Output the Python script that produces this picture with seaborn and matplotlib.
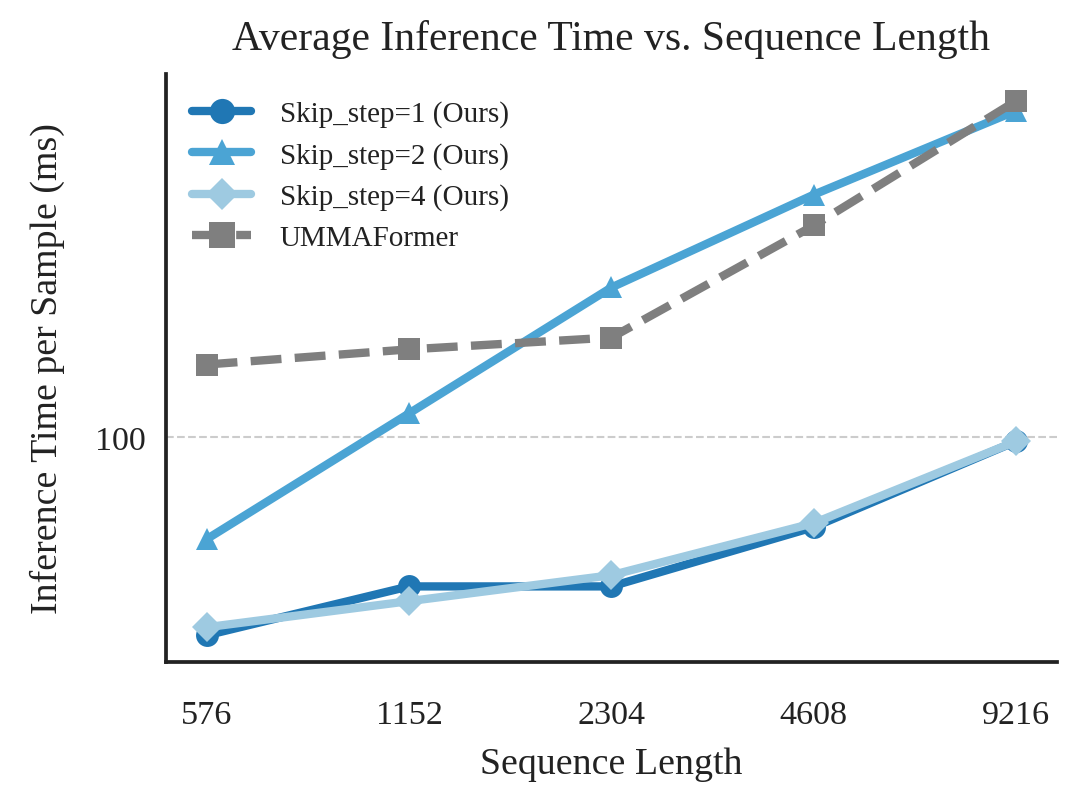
import numpy as np
import pandas as pd
import matplotlib
matplotlib.use("Agg")
import matplotlib.pyplot as plt
import matplotlib.ticker as mticker
import seaborn as sns

# sequence lengths (x) and average inference time per sample in ms (log y)
seq_len = [576, 1152, 2304, 4608, 9216]
skip1 = [52.1, 61.2, 61.2, 74.4, 98.7]
skip2 = [71.5, 108.2, 163.8, 222.4, 293.2]
skip4 = [53.5, 58.3, 63.5, 75.4, 98.7]
umma = [127.1, 133.6, 138.9, 200.9, 302.9]

series_names = ["Skip_step=1 (Ours)", "Skip_step=2 (Ours)", "Skip_step=4 (Ours)", "UMMAFormer"]
series_vals = [skip1, skip2, skip4, umma]
colors = ["#2077b4", "#4ba4d4", "#9ecae1", "#7f7f7f"]
markers = ["o", "^", "D", "s"]

sns.set_theme(style="white")
plt.rcParams["font.family"] = ["Liberation Serif", "DejaVu Serif"]

fig = plt.figure(figsize=(3.62, 2.703), dpi=300)
ax = fig.add_axes([0.153, 0.1825, 0.82, 0.725])

for name, vals, c, m in zip(series_names, series_vals, colors, markers):
    df = pd.DataFrame({"len": seq_len, "time": vals})
    ls = "--" if name == "UMMAFormer" else "-"
    ms = 5 if m == "D" else 5.5
    sns.lineplot(data=df, x="len", y="time", ax=ax, color=c, marker=m,
                 markersize=ms, markeredgewidth=0, linewidth=2, linestyle=ls,
                 label=name)

ax.set_xscale("log", base=2)
ax.set_yscale("log")
ax.set_xticks(seq_len)
ax.set_xticklabels([str(s) for s in seq_len])
ax.xaxis.set_minor_locator(mticker.NullLocator())
ax.yaxis.set_minor_formatter(mticker.NullFormatter())
ax.yaxis.set_major_locator(mticker.FixedLocator([100]))
ax.yaxis.set_major_formatter(mticker.FixedFormatter(["100"]))
ax.tick_params(axis="both", labelsize=8.2, length=0, colors="#222222")
ax.tick_params(axis="x", pad=9)
ax.tick_params(axis="y", pad=5)
ax.yaxis.grid(True, which="major", linestyle="--", linewidth=0.5, color="#cccccc")
ax.xaxis.grid(False)

for side in ["top", "right"]:
    ax.spines[side].set_visible(False)
for side in ["left", "bottom"]:
    ax.spines[side].set_color("#222222")
    ax.spines[side].set_linewidth(0.9)

ax.set_title("Average Inference Time vs. Sequence Length", fontsize=10, color="#222222", pad=6)
ax.set_xlabel("Sequence Length", fontsize=9.1, color="#222222", labelpad=4)
ax.set_ylabel("Inference Time per Sample (ms)", fontsize=9.1, color="#222222", labelpad=7)

leg = ax.legend(loc="upper left", frameon=False, fontsize=7, handlelength=2.0,
                handletextpad=1.0, markerscale=1.1)
for t in leg.get_texts():
    t.set_color("#222222")

fig.savefig("out.png", dpi=300)
